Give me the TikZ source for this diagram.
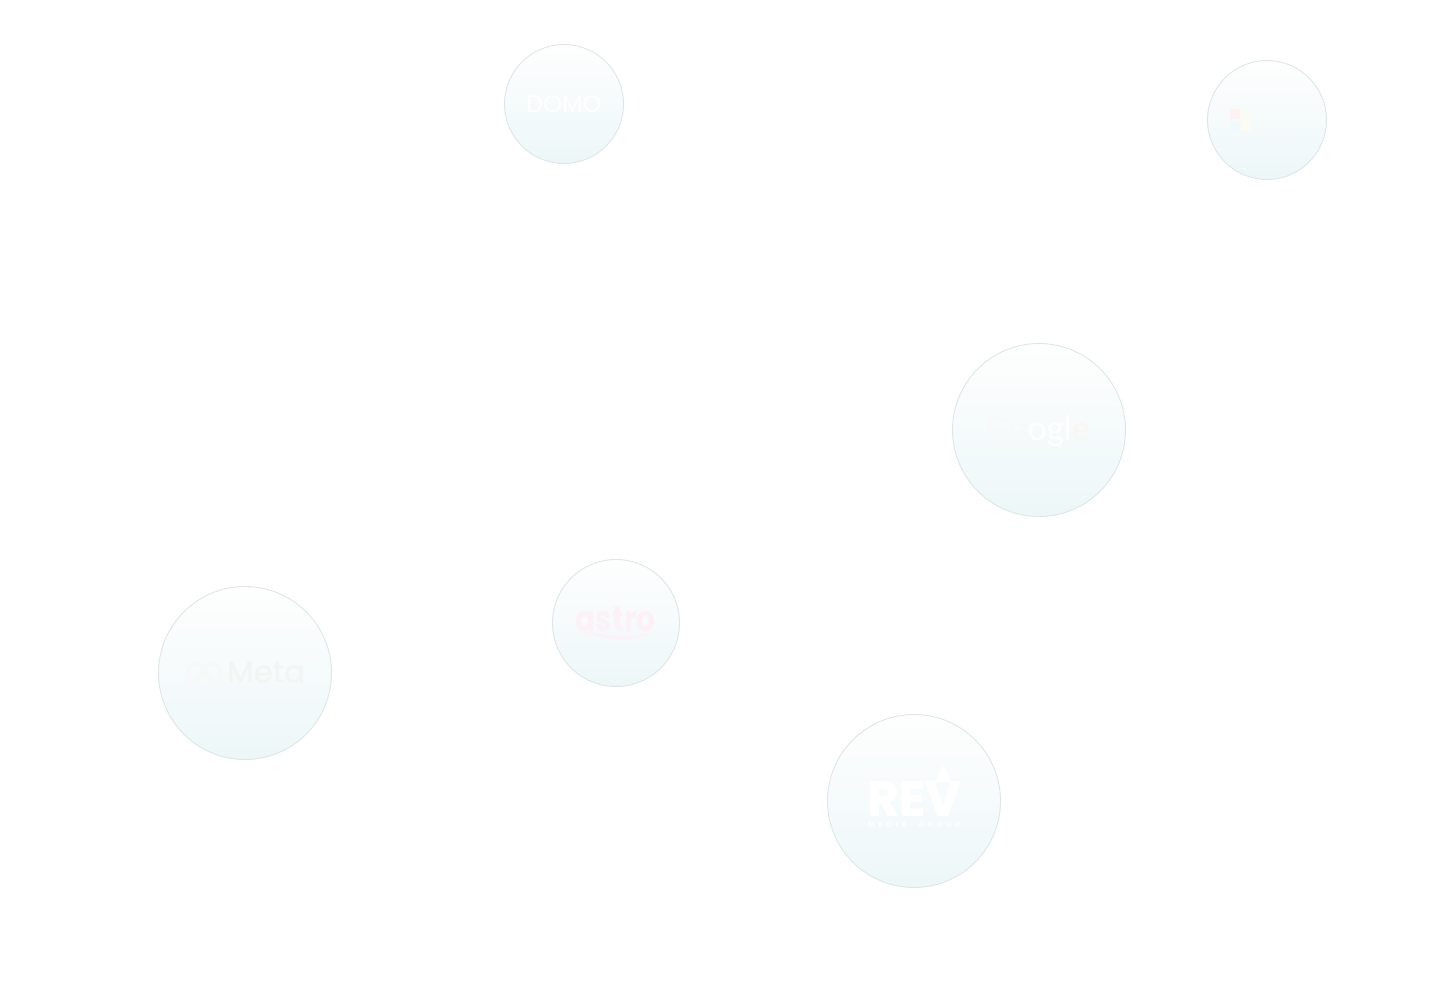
\documentclass[tikz,border=0pt]{standalone}
\usepackage{fontspec}
\setmainfont{Poppins}
\newfontfamily\gfont{Carlito}
\newfontfamily\heavyfont{Poppins}[FakeBold=0.5]
\newfontfamily\blackfont{Poppins}[FakeBold=1.5]
\definecolor{rimc}{HTML}{DCE6E8}
\definecolor{topc}{HTML}{FEFEFE}
\definecolor{botc}{HTML}{EDF7F8}
\definecolor{metac}{HTML}{F3F5F5}
\definecolor{astroc}{HTML}{FDF0F6}
\definecolor{azr}{HTML}{FDF2F0}
\definecolor{azg}{HTML}{F8FCF3}
\definecolor{azb}{HTML}{F0F9FC}
\definecolor{azy}{HTML}{FDFCF2}
\definecolor{aztxt}{HTML}{F8FBFC}
\definecolor{gbl}{HTML}{F8F9F9}
\definecolor{gre}{HTML}{FBF6F5}
\begin{document}
\begin{tikzpicture}[x=0.02cm,y=-0.02cm]
\tikzset{bubble/.style={circle, draw=rimc, line width=0.5pt, top color=topc, bottom color=botc, inner sep=0pt, outer sep=0pt},
  logo/.style={inner sep=0pt, outer sep=0pt, text=white}}
\useasboundingbox (0,0) rectangle (1451,1002);
% Bubbles
\foreach \n/\x/\y/\d in {domo/564/104/119,azure/1267/120/119,google/1039/430/173,astro/616/623/127,meta/245/673/173,rev/914/801/173}
  \node[bubble, minimum size=\d*0.02cm] (\n) at (\x,\y) {};
% Domo
\node[logo, font=\fontsize{13.6}{14}\selectfont] (domotxt) at (564,104.5) {DOMO};
% Azure
\foreach \s/\x/\y/\c in {r/1234.5/114/azr,g/1245.5/114/azg,b/1234.5/125.5/azb,y/1245.5/125.5/azy}
  \node[fill=\c, minimum size=0.2cm, inner sep=0pt, outer sep=0pt] (az\s) at (\x,\y) {};
\node[logo, text=aztxt, anchor=west, font=\fontsize{6.6}{7}\selectfont] (azline) at (1258,113.5) {Microsoft};
\node[logo, text=aztxt, anchor=west, font=\fontsize{7.6}{8}\selectfont] (azname) at (1258,126.5) {Azure};
% Google
\node[inner sep=0pt, outer sep=0pt, font=\gfont\fontsize{20.5}{22}\selectfont] (googletxt) at (1038,431)
  {\textcolor{gbl}{G}\textcolor{gbl}{o}\textcolor{white}{o}\textcolor{white}{g}\textcolor{white}{l}\textcolor{gre}{e}};
% Astro
\node[logo, text=astroc, font=\bfseries\fontsize{20}{20}\selectfont] (astrotxt) at (615.5,619.5) {\scalebox{0.84}[1]{astro}};
\coordinate (swl) at (579,632);
\coordinate (swr) at (653,632);
\fill[astroc] (swl) .. controls (600,633) and (628,641) .. (swr) .. controls (630,646) and (600,637) .. (swl) -- cycle;
% Meta
\node[logo, text=metac, font=\heavyfont\fontsize{17.6}{18}\selectfont] (metatxt) at (266,672) {Meta};
\draw[metac!70!white, line width=1.8pt, line cap=round] (189,682) .. controls (186,668) and (191,663) .. (197,663)
  .. controls (204,663) and (206,682) .. (215,682) .. controls (223,682) and (222,663) .. (212,663)
  .. controls (207,663) and (204,667) .. (198,678) .. controls (195,682) and (192,683) .. (189,682);
% Rev
\node[logo, font=\blackfont\bfseries\fontsize{27.5}{28}\selectfont] (revtxt) at (914,798.5) {REV};
\node[logo, font=\bfseries\fontsize{4.2}{5}\selectfont] (revsub) at (914,824.5)
  {\makebox[1.84cm][s]{M\hfill E\hfill D\hfill I\hfill A\hfill\hfill\hfill G\hfill R\hfill O\hfill U\hfill P}};
\fill[white] (935,782) .. controls (938,776) and (941,772) .. (943,765) .. controls (944,770) and (950,774) .. (951,782) -- cycle;
\end{tikzpicture}
\end{document}
